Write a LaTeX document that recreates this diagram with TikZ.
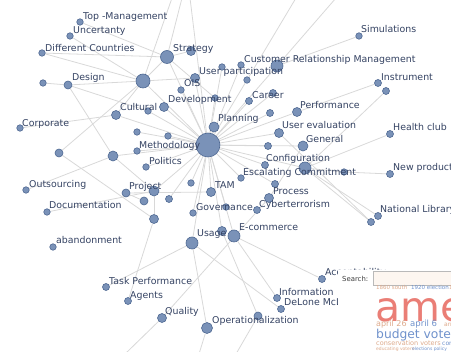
\documentclass[tikz,border=0pt]{standalone}
\usepackage{fontspec}
\setmainfont{DejaVu Sans}
\usetikzlibrary{backgrounds}
\definecolor{nodeF}{RGB}{122,146,184}
\definecolor{nodeB}{RGB}{78,104,146}
\definecolor{edgeC}{RGB}{216,216,216}
\definecolor{txtC}{RGB}{52,66,98}
\definecolor{tagTan}{RGB}{222,170,140}
\definecolor{tagBlue}{RGB}{112,146,204}
\definecolor{tagRed}{RGB}{234,126,118}
\begin{document}
\begin{tikzpicture}[x=1pt,y=-1pt,
  dot/.style={circle,draw=nodeB,fill=nodeF,inner sep=0pt,line width=0.6pt,minimum size=#1},
  dot/.default=6.5pt,
  lbl/.style={anchor=base west,inner sep=0pt,text=txtC,font=\fontsize{9.4}{10}\selectfont},
  edge/.style={draw=edgeC,line width=0.8pt},
  tag/.style={anchor=base west,inner sep=0pt}]
\useasboundingbox (0,0) rectangle (451,352);
\clip (0,0) rectangle (451,352);
% ---------- nodes ----------
\node[dot=24pt] (hub) at (208,145) {};
\node[dot=14pt] (B) at (143,81) {};
\node[dot=13pt] (S) at (167,57) {};
\node[dot=9pt] (s2) at (191,51) {};
\node[dot] (tm) at (80,22) {};
\node[dot] (unc) at (70,36) {};
\node[dot] (dc) at (42,53) {};
\node[dot=8pt] (dsn) at (68,85) {};
\node[dot] (d0) at (43,83) {};
\node[dot=9pt] (up) at (195,78) {};
\node[dot] (up2) at (222,67) {};
\node[dot] (up3) at (241,65) {};
\node[dot] (ois) at (181,90) {};
\node[dot=9pt] (dev) at (164,107) {};
\node[dot] (dev2) at (215,98) {};
\node[dot=9pt] (cul) at (116,115) {};
\node[dot] (cul2) at (148,111) {};
\node[dot] (corp) at (20,128) {};
\node[dot=10pt] (pl) at (214,127) {};
\node[dot] (m1) at (137,132) {};
\node[dot] (m2) at (168,136) {};
\node[dot] (meth) at (137,151) {};
\node[dot=8pt] (l1) at (59,153) {};
\node[dot=10pt] (l2) at (113,156) {};
\node[dot] (pol) at (146,167) {};
\node[dot] (out) at (26,190) {};
\node[dot=8pt] (prj) at (126,193) {};
\node[dot=10pt] (prj2) at (154,191) {};
\node[dot=8pt] (prj3) at (144,201) {};
\node[dot=7pt] (prj4) at (169,199) {};
\node[dot] (t1) at (191,183) {};
\node[dot=9pt] (tam) at (211,192) {};
\node[dot] (doc) at (47,212) {};
\node[dot=9pt] (u1) at (154,219) {};
\node[dot] (gov) at (193,213) {};
\node[dot] (gov2) at (226,207) {};
\node[dot] (ab) at (53,247) {};
\node[dot=12pt] (usg) at (192,243) {};
\node[dot=9pt] (usg2) at (222,231) {};
\node[dot=12pt] (crm) at (277,66) {};
\node[dot] (sim) at (359,36) {};
\node[dot=7pt] (ins) at (378,83) {};
\node[dot=7pt] (ins2) at (386,91) {};
\node[dot] (c2) at (247,80) {};
\node[dot=7pt] (car) at (249,101) {};
\node[dot=7pt] (car2) at (273,93) {};
\node[dot=9pt] (perf) at (297,112) {};
\node[dot=7pt] (p2) at (270,113) {};
\node[dot=9pt] (ue) at (279,133) {};
\node[dot=7pt] (hc) at (390,134) {};
\node[dot=10pt] (gen) at (303,146) {};
\node[dot=7pt] (g2) at (268,146) {};
\node[dot=7pt] (conf) at (265,165) {};
\node[dot=12pt] (c5) at (305,168) {};
\node[dot] (esc) at (344,172) {};
\node[dot=7pt] (np) at (390,174) {};
\node[dot] (t2) at (241,178) {};
\node[dot=7pt] (proc) at (275,184) {};
\node[dot=9pt] (proc2) at (269,198) {};
\node[dot=7pt] (cyb) at (257,210) {};
\node[dot=7pt] (nl) at (378,216) {};
\node[dot=7pt] (nl2) at (371,222) {};
\node[dot=12pt] (ec) at (234,236) {};
\node[dot=7pt] (tp) at (106,287) {};
\node[dot=7pt] (ag) at (128,301) {};
\node[dot=9pt] (q) at (162,318) {};
\node[dot=11pt] (op) at (207,328) {};
\node[dot=8pt] (op2) at (258,316) {};
\node[dot=7pt] (acc) at (322,279) {};
\node[dot=7pt] (inf) at (277,298) {};
\node[dot=7pt] (dl) at (281,309) {};
% free ends at the picture's edges
\coordinate (tA) at (172,-2);
\coordinate (tB) at (182,-2);
\coordinate (tC) at (190,-2);
\coordinate (tD) at (296,-2);
\coordinate (tE) at (336,-2);
\coordinate (bA) at (125,354);
\coordinate (bB) at (199,354);
\coordinate (bC) at (236,354);
% ---------- edges ----------
\begin{scope}[on background layer]
\foreach \n in {pl,m1,m2,meth,dev,ois,dev2,up,up2,up3,crm,c2,car,car2,p2,perf,ue,g2,gen,conf,c5,t2,proc,tam,t1,gov,gov2,usg,usg2,ec,prj4,prj2,l2,cul,S,B,cul2,pol}
  \draw[edge] (hub) -- (\n);
\draw[edge] (S) -- (tm);
\draw[edge] (S) -- (dc);
\draw[edge] (S) -- (s2);
\draw[edge] (S) -- (B);
\draw[edge] (S) -- (dev2);
\draw[edge] (unc) -- (B);
\draw[edge] (dc) -- (B);
\draw[edge] (d0) -- (dsn);
\draw[edge] (dsn) -- (B);
\draw[edge] (dsn) -- (cul2);
\draw[edge] (dsn) -- (l2);
\draw[edge] (corp) -- (cul);
\draw[edge] (cul) -- (B);
\draw[edge] (B) -- (up);
\draw[edge] (l1) -- (B);
\draw[edge] (l1) -- (u1);
\draw[edge] (out) -- (l2);
\draw[edge] (doc) -- (prj2);
\draw[edge] (prj) -- (tam);
\draw[edge] (u1) -- (ag);
\draw[edge] (u1) -- (prj2);
\draw[edge] (tp) -- (usg);
\draw[edge] (usg) -- (op);
\draw[edge] (usg) -- (dl);
\draw[edge] (ec) -- (acc);
\draw[edge] (ec) -- (inf);
\draw[edge] (usg2) -- (op2);
\draw[edge] (q) -- (proc2);
\draw[edge] (q) -- (bA);
\draw[edge] (op) -- (bB);
\draw[edge] (op2) -- (bC);
\draw[edge] (hc) -- (c5);
\draw[edge] (np) -- (esc);
\draw[edge] (esc) -- (c5);
\draw[edge] (nl2) -- (c5);
\draw[edge] (nl2) -- (ue);
\draw[edge] (nl) -- (c5);
\draw[edge] (gen) -- (proc2);
\draw[edge] (ins) -- (perf);
\draw[edge] (ins2) -- (c5);
\draw[edge] (crm) -- (sim);
\draw[edge] (crm) -- (tE);
\draw[edge] (c2) -- (tD);
\draw[edge] (B) -- (tA);
\draw[edge] (S) -- (tB);
\draw[edge] (hub) -- (tC);
\draw[edge] (l2) -- (prj2);
\draw[edge] (prj3) -- (prj);
\end{scope}
% ---------- labels ----------
\node[lbl] (Ltm) at (83,19.5) {Top -Management};
\node[lbl] (Lunc) at (73,33.5) {Uncertanty};
\node[lbl] (Ldc) at (45,51.5) {Different Countries};
\node[lbl] (Ldsn) at (72,80.5) {Design};
\node[lbl] (LS) at (173,51.5) {Strategy};
\node[lbl] (Lup) at (199,74.5) {User participation};
\node[lbl] (Lois) at (184,86.5) {OIS};
\node[lbl] (Ldev) at (168,102.5) {Development};
\node[lbl] (Lcul) at (120,110.5) {Cultural};
\node[lbl] (Lcorp) at (22,126.5) {Corporate};
\node[lbl] (Lpl) at (218,121.5) {Planning};
\node[lbl] (Lmeth) at (139,148.5) {Methodology};
\node[lbl] (Lpol) at (149,164.5) {Politics};
\node[lbl] (Lout) at (29,187.5) {Outsourcing};
\node[lbl] (Lprj) at (129,189.5) {Project};
\node[lbl] (Ltam) at (215,188.5) {TAM};
\node[lbl] (Ldoc) at (49,208.5) {Documentation};
\node[lbl] (Lgov) at (196,210.5) {Governance};
\node[lbl] (Lab) at (56,243.5) {abandonment};
\node[lbl] (Lusg) at (197,236.5) {Usage};
\node[lbl] (Lcrm) at (244,62.5) {Customer Relationship Management};
\node[lbl] (Lsim) at (361,32.5) {Simulations};
\node[lbl] (Lins) at (381,80.5) {Instrument};
\node[lbl] (Lcar) at (252,98.5) {Career};
\node[lbl] (Lperf) at (300,108.5) {Performance};
\node[lbl] (Lue) at (282,128.5) {User evaluation};
\node[lbl] (Lhc) at (393,130.5) {Health club};
\node[lbl] (Lgen) at (306,142.5) {General};
\node[lbl] (Lconf) at (266,161.5) {Configuration};
\node[lbl] (Lesc) at (243,175.5) {Escalating Commitment};
\node[lbl] (Lnp) at (393,170.5) {New product};
\node[lbl] (Lproc) at (273,194.5) {Process};
\node[lbl] (Lcyb) at (259,207.5) {Cyberterrorism};
\node[lbl] (Lnl) at (380,212.5) {National Library};
\node[lbl] (Lec) at (239,230.5) {E-commerce};
\node[lbl] (Ltp) at (109,284.5) {Task Performance};
\node[lbl] (Lag) at (130,298.5) {Agents};
\node[lbl] (Lq) at (165,314.5) {Quality};
\node[lbl] (Lop) at (212,323.5) {Operationalization};
\node[lbl] (Linf) at (279,295.5) {Information};
\node[lbl] (Ldl) at (284,305.5) {DeLone McLean};
\node[lbl] (Lacc) at (325,275.5) {Acceptability};
% ---------- search panel ----------
\node[fill=white,inner sep=0pt,minimum width=114pt,minimum height=84pt,anchor=north west] (panel) at (338,270) {};
\node[tag,text={rgb,255:red,60;green,60;blue,60},font=\fontsize{6.9}{7}\selectfont] (srch) at (342,281.5) {Search:};
\node[draw={rgb,255:red,185;green,185;blue,185},fill={rgb,255:red,253;green,246;blue,240},line width=0.6pt,inner sep=0pt,minimum width=84pt,minimum height=14pt,anchor=north west] (sbox) at (373,271) {};
\node[tag,text=tagTan,font=\fontsize{5.5}{6}\selectfont] (t1860) at (376,290) {1860 south};
\node[tag,text=tagBlue,font=\fontsize{5.5}{6}\selectfont] (t1920) at (411,290) {1920 election};
\node[tag,text=tagTan,font=\fontsize{5.5}{6}\selectfont] (t19) at (449,290) {1920};
\node[tag,text=tagRed,font=\fontsize{41}{41}\selectfont] (tame) at (375,322) {america};
\node[tag,text=tagTan,font=\fontsize{8}{8}\selectfont] (tap26) at (376,327) {april 26};
\node[tag,text=tagBlue,font=\fontsize{8.5}{9}\selectfont] (tap6) at (410,327) {april 6};
\node[tag,text=tagTan,font=\fontsize{6}{6}\selectfont] (tar) at (444,327) {arms};
\node[tag,text=tagBlue,font=\fontsize{12.3}{13}\selectfont] (tbud) at (376,339) {budget voters};
\node[tag,text=tagTan,font=\fontsize{6.5}{7}\selectfont] (tcons) at (376,345.5) {conservation voters};
\node[tag,text=tagBlue,font=\fontsize{6}{6}\selectfont] (tco) at (442,345.5) {congress};
\node[tag,text=tagTan,font=\fontsize{4.5}{5}\selectfont] (tedu) at (376,350.5) {educating voters};
\node[tag,text=tagBlue,font=\fontsize{4.5}{5}\selectfont] (tel) at (412,350.5) {elections policy};
\end{tikzpicture}
\end{document}
